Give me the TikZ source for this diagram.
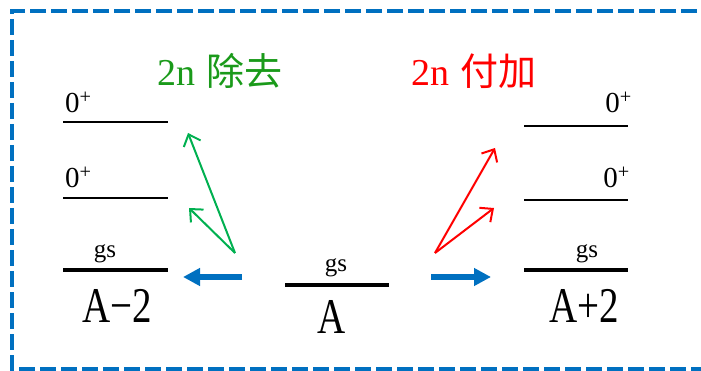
\documentclass[tikz,border=0pt]{standalone}
\usepackage{fontspec}
\setmainfont{Liberation Serif}
\newfontfamily\cjk{Noto Sans CJK SC}
\usetikzlibrary{arrows.meta}

\begin{document}
\begin{tikzpicture}[x=1pt, y=-1pt]
    \definecolor{frameColour}{HTML}{0070C0}
    \definecolor{removeColour}{HTML}{00B050}
    \definecolor{removeText}{HTML}{1A9A1A}
    \definecolor{addColour}{HTML}{FF0000}
    \tikzset{
        thinLevel/.style={line width=2.5pt},
        gsLevel/.style={line width=4.5pt},
        spinLabel/.style={inner sep=0pt, font=\fontsize{29}{29}\selectfont},
        gsLabel/.style={anchor=base, inner sep=0pt, font=\fontsize{25}{25}\selectfont},
        massLabel/.style={anchor=base, inner sep=0pt, font=\fontsize{50}{50}\selectfont},
        titleLabel/.style={anchor=base west, inner sep=0pt, font=\fontsize{38}{38}\selectfont},
        shiftArrow/.style={frameColour, line width=6pt, -{Triangle[length=17pt,width=17pt]}},
        pairArrow/.style={line width=2pt, -{Straight Barb[length=10pt,width=18pt]}}
    }
    \clip (0,0) rectangle (701,371);

    % Draw dashed frame (right side runs off the picture)
    \coordinate (frameBR) at (12,369);
    \coordinate (frameTL) at (12,11);
    \draw[frameColour, line width=4pt, dash pattern=on 16pt off 5pt]
        (760,11) -- (frameTL) -- (frameBR) -- (760,369);

    % Levels of A-2
    \coordinate (L0a) at (63,122);  \coordinate (L0b) at (168,122);
    \coordinate (L1a) at (63,198);  \coordinate (L1b) at (168,198);
    \coordinate (Lga) at (63,270);  \coordinate (Lgb) at (168,270);
    \draw[thinLevel] (L0a) -- (L0b);
    \draw[thinLevel] (L1a) -- (L1b);
    \draw[gsLevel] (Lga) -- (Lgb);
    \node[spinLabel, anchor=base west] (lSpinTop) at (65,113) {0\textsuperscript{+}};
    \node[spinLabel, anchor=base west] (lSpinMid) at (65,188) {0\textsuperscript{+}};
    \node[gsLabel] (lGs) at (105,258) {gs};
    \node[massLabel] (lMass) at (117,322) {\scalebox{0.78}[1]{A\textminus 2}};

    % Level of A
    \coordinate (Ca) at (285,285);  \coordinate (Cb) at (389,285);
    \draw[gsLevel] (Ca) -- (Cb);
    \node[gsLabel] (cGs) at (336,272) {gs};
    \node[massLabel] (cMass) at (332,333) {\scalebox{0.78}[1]{A}};

    % Levels of A+2
    \coordinate (R0a) at (524,126); \coordinate (R0b) at (628,126);
    \coordinate (R1a) at (524,200); \coordinate (R1b) at (628,200);
    \coordinate (Rga) at (524,270); \coordinate (Rgb) at (628,270);
    \draw[thinLevel] (R0a) -- (R0b);
    \draw[thinLevel] (R1a) -- (R1b);
    \draw[gsLevel] (Rga) -- (Rgb);
    \node[spinLabel, anchor=base east] (rSpinTop) at (632,113) {0\textsuperscript{+}};
    \node[spinLabel, anchor=base east] (rSpinMid) at (630,188) {0\textsuperscript{+}};
    \node[gsLabel] (rGs) at (587,258) {gs};
    \node[massLabel] (rMass) at (584,322) {\scalebox{0.78}[1]{A+2}};

    % Titles
    \node[titleLabel, removeText] (remove) at (157,86) {2n\hspace{11pt}{\cjk 除去}};
    \node[titleLabel, addColour] (add) at (411,86) {2n\hspace{11pt}{\cjk 付加}};

    % Blue arrows
    \coordinate (shiftL0) at (242,277); \coordinate (shiftL1) at (183,277);
    \coordinate (shiftR0) at (431,277); \coordinate (shiftR1) at (491,277);
    \draw[shiftArrow] (shiftL0) -- (shiftL1);
    \draw[shiftArrow] (shiftR0) -- (shiftR1);

    % 2n removal (green) and 2n addition (red)
    \coordinate (remFrom) at (235,253);
    \coordinate (remTop) at (188,133);
    \coordinate (remMid) at (189,208);
    \draw[pairArrow, removeColour] (remFrom) -- (remTop);
    \draw[pairArrow, removeColour] (remFrom) -- (remMid);
    \coordinate (addFrom) at (435,253);
    \coordinate (addTop) at (495,148);
    \coordinate (addMid) at (494,208);
    \draw[pairArrow, addColour] (addFrom) -- (addTop);
    \draw[pairArrow, addColour] (addFrom) -- (addMid);

\end{tikzpicture}
\end{document}
